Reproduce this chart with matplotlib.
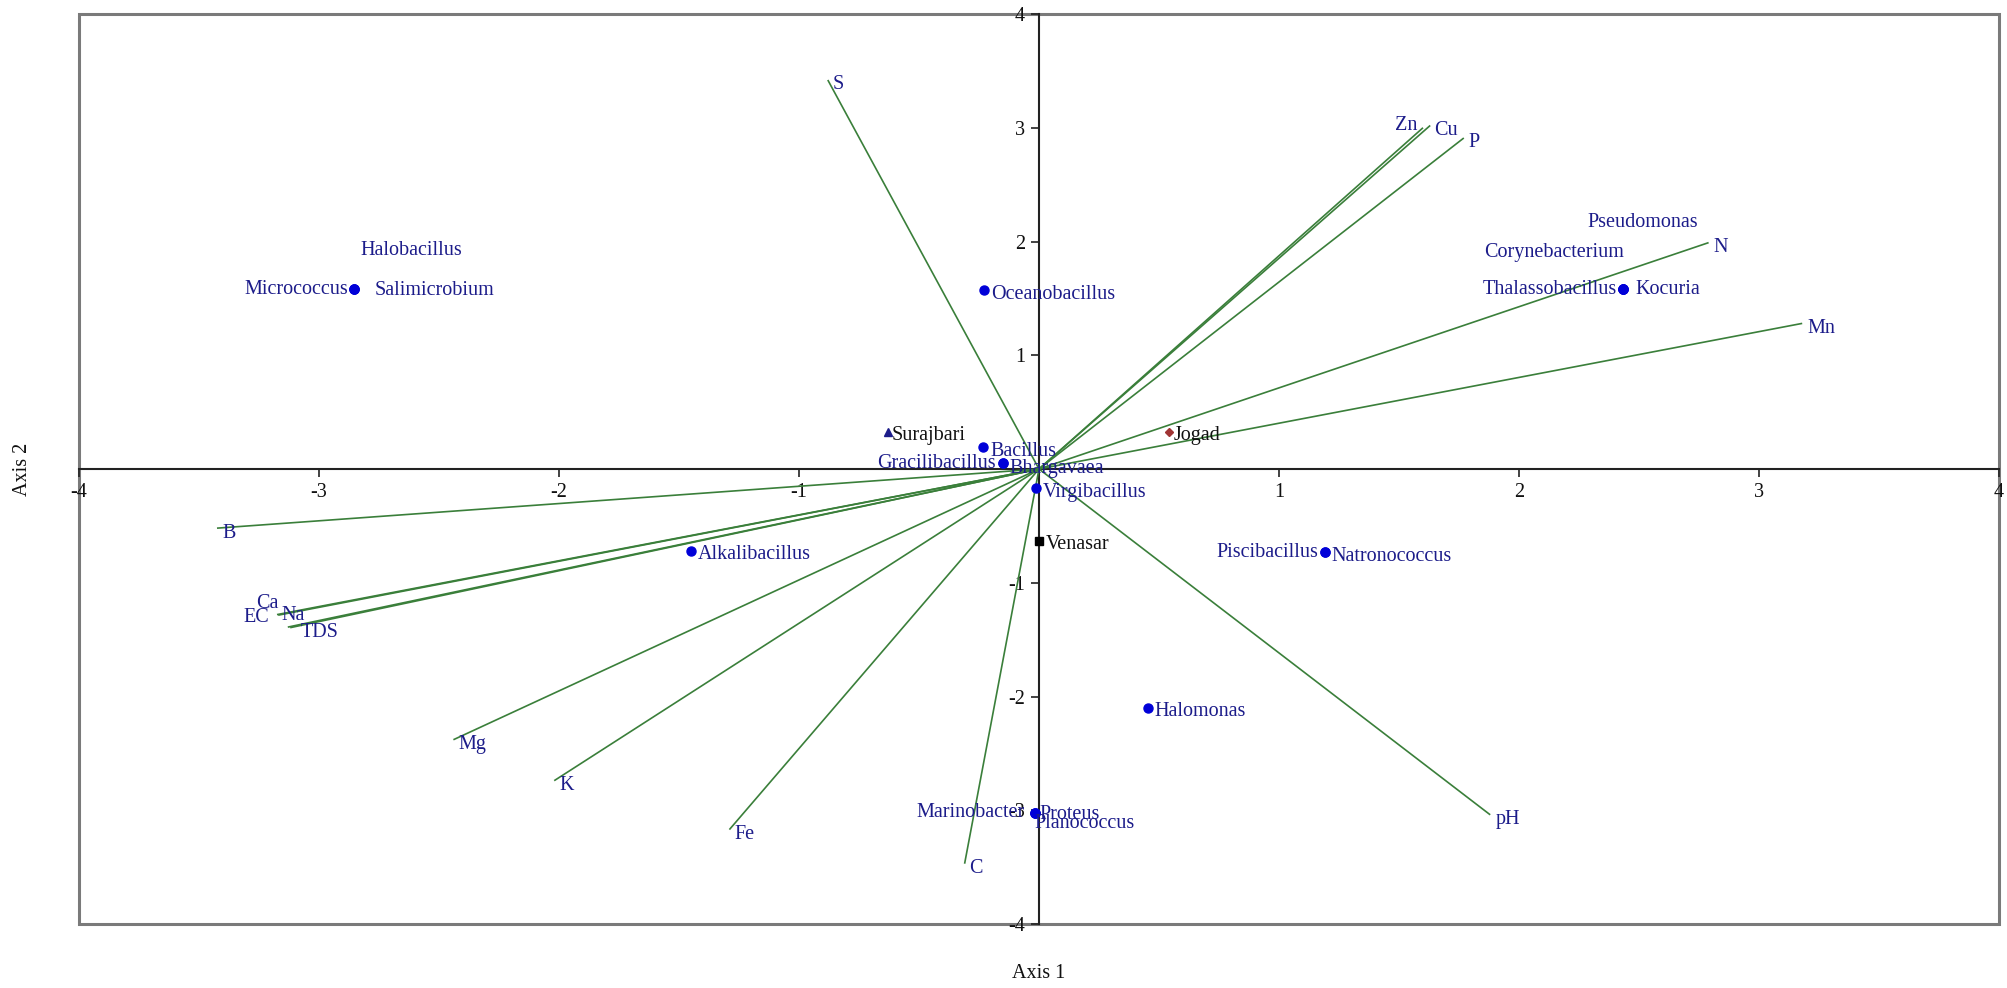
import matplotlib
matplotlib.use("Agg")
import matplotlib.pyplot as plt
from matplotlib.patches import Rectangle

# ---------------- data ----------------
env_names = ["S", "Zn", "Cu", "P", "N", "Mn", "pH", "C", "Fe", "K", "Mg", "B",
             "Ca", "Na", "EC", "TDS"]
env_x = [-0.88, 1.60, 1.63, 1.77, 2.79, 3.18, 1.88, -0.31, -1.29, -2.02, -2.44, -3.425,
         -3.175, -3.17, -3.13, -3.12]
env_y = [3.42, 3.00, 3.02, 2.91, 1.99, 1.28, -3.04, -3.47, -3.17, -2.74, -2.38, -0.52,
         -1.28, -1.285, -1.39, -1.395]

species_names = ["Micrococcus", "Halobacillus", "Salimicrobium", "Oceanobacillus",
                 "Thalassobacillus", "Kocuria", "Corynebacterium", "Pseudomonas",
                 "Bacillus", "Gracilibacillus", "Bhargavaea", "Virgibacillus",
                 "Alkalibacillus", "Piscibacillus", "Natronococcus", "Halomonas",
                 "Marinobacter", "Proteus", "Planococcus"]
species_x = [-2.854, -2.854, -2.854, -0.23,
             2.433, 2.433, 2.433, 2.433,
             -0.233, -0.15, -0.15, -0.012,
             -1.45, 1.19, 1.19, 0.453,
             -0.017, -0.017, -0.017]
species_y = [1.58, 1.58, 1.58, 1.57,
             1.58, 1.58, 1.58, 1.58,
             0.19, 0.05, 0.05, -0.17,
             -0.72, -0.73, -0.73, -2.10,
             -3.02, -3.02, -3.02]

site_names = ["Surajbari", "Jogad", "Venasar"]
site_x = [-0.63, 0.54, 0.0]
site_y = [0.325, 0.325, -0.63]

xticks = [-4, -3, -2, -1, 1, 2, 3, 4]
yticks = [-4, -3, -2, -1, 1, 2, 3, 4]

# ---------------- style ----------------
FONT = "Liberation Serif"
FS = 14.5
LABEL_COLOR = "#1c1c8a"
LINE_COLOR = "#3a7f3a"
POINT_COLOR = "#0000d8"

# label offsets in pixels (dx, dy, ha)
env_off = {
    "Zn": (-6, 2, "right"),
    "Cu": (4, -5, "left"),
    "Ca": (2, 11, "right"),
    "Na": (3, 0, "left"),
    "EC": (-19, 10, "right"),
    "TDS": (10, -5, "left"),
}
env_default = (5, -5, "left")

sp_off = {
    "Micrococcus": (-6, 0, "right"),
    "Halobacillus": (6, 39, "left"),
    "Salimicrobium": (21, -1, "left"),
    "Thalassobacillus": (-6, 0, "right"),
    "Kocuria": (13, 0, "left"),
    "Corynebacterium": (1, 37, "right"),
    "Pseudomonas": (-35, 67, "left"),
    "Gracilibacillus": (-7, 0, "right"),
    "Bhargavaea": (6, -5, "left"),
    "Piscibacillus": (-6, 0, "right"),
    "Marinobacter": (-10, 0, "right"),
    "Proteus": (5, -2, "left"),
    "Planococcus": (0, -11, "left"),
}
sp_default = (7, -4, "left")

site_markers = ["^", "D", "s"]
site_colors = ["#1c1c8a", "#a03434", "#000000"]
site_sizes = [6, 4.5, 6]
site_off = [(4, -3), (5, -3), (7, -4)]

# ---------------- figure ----------------
fig = plt.figure(figsize=(20.08, 9.88), dpi=100)
ax = fig.add_axes([79 / 2008, 64 / 988, 1920 / 2008, 910 / 988])
ax.set_xlim(-4, 4)
ax.set_ylim(-4, 4)

for s in ["top", "right"]:
    ax.spines[s].set_visible(False)
ax.spines["left"].set_position("zero")
ax.spines["bottom"].set_position("zero")
for s in ["left", "bottom"]:
    ax.spines[s].set_color("#222222")
    ax.spines[s].set_linewidth(1.5)
    ax.spines[s].set_zorder(1)

ax.add_patch(Rectangle((0, 0), 1, 1, transform=ax.transAxes, fill=False,
                       edgecolor="#7a7a7a", linewidth=2.2, clip_on=False, zorder=0))

ax.set_xticks(xticks)
ax.set_yticks(yticks)
ax.set_xticklabels([str(t) for t in xticks], fontfamily=FONT, fontsize=FS)
ax.set_yticklabels([str(t) for t in yticks], fontfamily=FONT, fontsize=FS)
ax.tick_params(axis="both", direction="out", length=6, width=1.2, color="#222222",
               pad=4, labelcolor="#111111")

# environmental vectors
for n, x, y in zip(env_names, env_x, env_y):
    ax.plot([0, x], [0, y], color=LINE_COLOR, linewidth=1.2, zorder=2,
            solid_capstyle="butt")
    dx, dy, ha = env_off.get(n, env_default)
    ax.annotate(n, (x, y), xytext=(dx, dy), textcoords="offset pixels",
                ha=ha, va="center", fontfamily=FONT, fontsize=FS,
                color=LABEL_COLOR, zorder=5)

# species
ax.plot(species_x, species_y, linestyle="none", marker="o", markersize=6.5,
        color=POINT_COLOR, zorder=4)
for n, x, y in zip(species_names, species_x, species_y):
    dx, dy, ha = sp_off.get(n, sp_default)
    ax.annotate(n, (x, y), xytext=(dx, dy), textcoords="offset pixels",
                ha=ha, va="center", fontfamily=FONT, fontsize=FS,
                color=LABEL_COLOR, zorder=5)

# sites
for n, x, y, m, c, ms, (dx, dy) in zip(site_names, site_x, site_y, site_markers,
                                       site_colors, site_sizes, site_off):
    ax.plot([x], [y], linestyle="none", marker=m, markersize=ms, color=c, zorder=4)
    ax.annotate(n, (x, y), xytext=(dx, dy), textcoords="offset pixels",
                ha="left", va="center", fontfamily=FONT, fontsize=FS,
                color="#111111", zorder=5)

fig.text(1039 / 2008, 1 - 973 / 988, "Axis 1", ha="center", va="center",
         fontfamily=FONT, fontsize=FS, color="#111111")
fig.text(23 / 2008, 1 - 469 / 988, "Axis 2", ha="center", va="center",
         rotation=90, fontfamily=FONT, fontsize=FS, color="#111111")

fig.savefig("out.png", dpi=100, facecolor="white")
